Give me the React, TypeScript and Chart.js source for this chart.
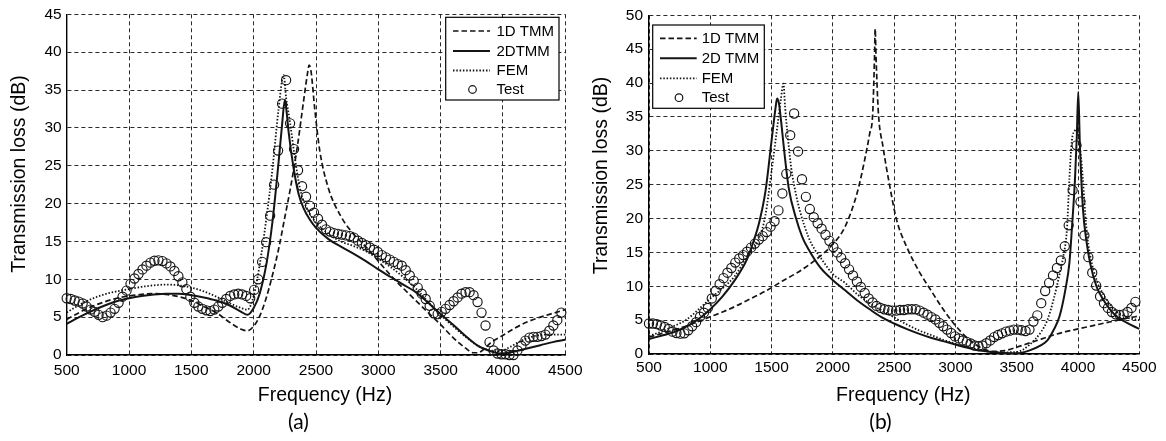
import React, { useEffect, useRef } from 'react';
import { Chart, registerables } from 'chart.js';

Chart.register(...registerables);

const FONT = "'Liberation Sans', Arial, Helvetica, sans-serif";
const INK = '#141414';
const GRID = '#2a2a2a';

// ---------- shared ----------
const xTickStep = 500;
const xMin = 500;
const xMax = 4500;
const xTitle = 'Frequency (Hz)';
const yTitle = 'Transmission loss (dB)';

// test frequencies (both panels)
const testFreq = [
  500, 532, 564, 596, 628, 660, 692, 724, 756, 788,
  820, 852, 884, 916, 948, 980, 1012, 1044, 1076, 1108,
  1140, 1172, 1204, 1236, 1268, 1300, 1332, 1364, 1396, 1428,
  1460, 1492, 1524, 1556, 1588, 1620, 1652, 1684, 1716, 1748,
  1780, 1812, 1844, 1876, 1908, 1940, 1972, 2004, 2036, 2068,
  2100, 2132, 2164, 2196, 2228, 2260, 2292, 2324, 2356, 2388,
  2420, 2452, 2484, 2516, 2548, 2580, 2612, 2644, 2676, 2708,
  2740, 2772, 2804, 2836, 2868, 2900, 2932, 2964, 2996, 3028,
  3060, 3092, 3124, 3156, 3188, 3220, 3252, 3284, 3316, 3348,
  3380, 3412, 3444, 3476, 3508, 3540, 3572, 3604, 3636, 3668,
  3700, 3732, 3764, 3796, 3828, 3860, 3892, 3924, 3956, 3988,
  4020, 4052, 4084, 4116, 4148, 4180, 4212, 4244, 4276, 4308,
  4340, 4372, 4404, 4436, 4468,
];

// ---------- panel (a) ----------
const yMaxA = 45;
const labelsA = ['1D TMM', '2DTMM', 'FEM', 'Test'];

const freq1DA = [500, 600, 700, 800, 900, 1000, 1100, 1200, 1300, 1400, 1500, 1600, 1700, 1800, 1900,
  1950, 2000, 2050, 2100, 2150, 2200, 2250, 2300, 2350, 2400,
  2430, 2445, 2460, 2490, 2530,
  2600, 2700, 2800, 2900, 3000, 3100, 3200, 3300, 3400, 3500, 3600, 3700,
  3760, 3800, 3850, 3900,
  4000, 4100, 4200, 4300, 4400, 4500];
const tl1DA = [4.7, 5.6, 6.4, 7.0, 7.5, 7.8, 8.0, 8.1, 8.0, 7.7, 7.2, 6.4, 5.6, 4.4, 3.4,
  3.2, 3.8, 5.2, 7.5, 10.5, 14.0, 18.2, 22.5, 27.5, 33.5,
  37.0, 38.3, 37.5, 32.5, 27.0,
  22.0, 18.3, 16.0, 14.3, 12.4, 10.5, 8.8, 7.2, 5.6, 4.0, 2.3, 0.9,
  0.3, 0.3, 0.8, 1.6,
  2.6, 3.6, 4.4, 5.0, 5.5, 6.0];

const freq2DA = [500, 600, 700, 800, 900, 1000, 1100, 1200, 1300, 1400, 1500, 1600, 1700, 1800, 1900,
  1950, 2000, 2050, 2100, 2150, 2200, 2230, 2250, 2265, 2280,
  2320, 2360, 2400, 2450, 2500,
  2600, 2700, 2800, 2900, 3000, 3100, 3200, 3300, 3400, 3500, 3600, 3700, 3800, 3900,
  3975, 4050, 4150, 4300, 4400, 4500];
const tl2DA = [4.1, 5.0, 5.8, 6.5, 7.1, 7.5, 7.8, 8.0, 8.1, 8.1, 7.9, 7.6, 7.2, 6.6, 5.7,
  5.3, 6.2, 8.2, 11.8, 17.5, 25.5, 30.8, 33.7, 32.0, 29.5,
  24.7, 21.3, 19.4, 17.9, 16.8,
  15.3, 14.3, 13.4, 12.4, 11.3, 10.3, 9.3, 8.3, 6.9, 5.4, 4.0, 2.5, 1.2, 0.5,
  0.2, 0.3, 0.7, 1.3, 1.7, 2.0];

const freqFemA = [500, 600, 700, 800, 900, 1000, 1100, 1200, 1300, 1400, 1500, 1600, 1700, 1800, 1900,
  1950, 2000, 2050, 2100, 2150, 2200, 2240, 2260, 2290, 2330,
  2370, 2420, 2500,
  2600, 2700, 2800, 2900, 3000, 3100, 3200, 3300, 3400, 3500, 3600, 3700, 3800, 3900,
  3975, 4050, 4150, 4250, 4350, 4500];
const tlFemA = [5.6, 6.6, 7.4, 8.0, 8.4, 8.7, 9.0, 9.2, 9.3, 9.2, 8.9, 8.4, 7.7, 6.9, 6.2,
  6.0, 7.8, 12.1, 17.8, 24.5, 32.5, 37.0, 34.0, 30.9, 26.1,
  22.1, 19.6, 17.5,
  16.0, 15.0, 14.4, 13.7, 12.7, 11.6, 10.3, 8.8, 7.0, 5.3, 3.8, 2.4, 1.2, 0.6,
  0.5, 1.0, 1.9, 2.5, 2.7, 2.7];

const testA = [
  7.5, 7.4, 7.2, 7.05, 6.8, 6.4, 6.0, 5.7, 5.3, 5.0,
  5.2, 5.6, 6.1, 6.9, 7.7, 8.5, 9.4, 10.1, 10.7, 11.3,
  11.8, 12.2, 12.45, 12.5, 12.4, 12.1, 11.7, 11.1, 10.4, 9.6,
  8.7, 7.7, 6.9, 6.4, 6.1, 5.9, 5.8, 6.0, 6.4, 6.9,
  7.4, 7.8, 8.0, 8.1, 8.0, 7.8, 7.5, 8.6, 10.0, 12.3,
  14.9, 18.4, 22.5, 27.0, 33.2, 36.3, 30.6, 27.2, 24.4, 22.3,
  20.9, 19.7, 18.8, 18.0, 17.2, 16.6, 16.3, 16.1, 16.0, 15.9,
  15.8, 15.7, 15.5, 15.1, 14.8, 14.5, 14.2, 13.9, 13.6, 13.2,
  12.9, 12.6, 12.3, 12.0, 11.8, 11.2, 10.5, 9.8, 8.9, 8.1,
  7.4, 6.5, 5.5, 5.4, 5.7, 6.1, 6.6, 7.1, 7.6, 8.1,
  8.3, 8.3, 7.9, 7.0, 5.6, 3.9, 1.7, 0.6, 0.2, 0.1,
  0.1, 0.0, 0.0, 0.6, 1.2, 1.9, 2.3, 2.4, 2.4, 2.5,
  2.7, 3.2, 3.9, 4.6, 5.6,
];

// ---------- panel (b) ----------
const yMaxB = 50;
const labelsB = ['1D TMM', '2D TMM', 'FEM', 'Test'];

const freq1DB = [500, 600, 700, 800, 900, 1000, 1100, 1200, 1300, 1400, 1500, 1600, 1700, 1800, 1900, 2000, 2100, 2200,
  2260, 2300, 2325, 2340, 2345, 2352, 2370, 2410, 2460, 2520,
  2600, 2700, 2800, 2900, 3000, 3100, 3200, 3300, 3400, 3500, 3600, 3700, 3800, 3900, 4000, 4100, 4200, 4300, 4400, 4500];
const tl1DB = [2.5, 3.0, 3.5, 4.1, 4.8, 5.5, 6.2, 7.0, 7.9, 8.8, 9.8, 10.9, 11.9, 13.1, 14.5, 16.2, 18.8, 23.9,
  28.7, 32.5, 35.5, 44.0, 48.0, 44.0, 36.0, 30.5, 25.2, 19.8,
  15.9, 12.3, 9.4, 6.6, 4.2, 2.3, 1.0, 0.4, 0.5, 1.0, 1.6, 2.2, 2.8, 3.3, 3.7, 4.1, 4.5, 4.9, 5.3, 5.6];

const freq2DB = [500, 600, 700, 800, 900, 1000, 1100, 1200, 1300,
  1350, 1400, 1450, 1500, 1530, 1545, 1560, 1580, 1600, 1640,
  1700, 1750, 1800,
  1900, 2000, 2100, 2200, 2300, 2400, 2500, 2600, 2700, 2800, 2900, 3000, 3100, 3200, 3300, 3400, 3500, 3600, 3700,
  3750, 3800, 3850, 3900, 3930, 3950, 3975, 3990, 4002, 4015,
  4040, 4070, 4100, 4150, 4200, 4300, 4400, 4500];
const tl2DB = [2.2, 2.7, 3.2, 4.0, 5.1, 6.6, 8.5, 10.9, 14.0,
  16.5, 19.5, 24.0, 31.5, 36.0, 37.7, 37.0, 34.0, 30.5, 24.5,
  20.0, 17.3, 15.5,
  12.7, 10.9, 9.4, 7.9, 6.6, 5.4, 4.5, 3.7, 3.0, 2.4, 1.9, 1.4, 0.9, 0.5, 0.3, 0.15, 0.1, 0.5, 1.3,
  2.0, 3.5, 5.6, 9.8, 13.5, 18.5, 25.7, 32.0, 38.7, 31.0,
  21.5, 16.5, 13.3, 10.0, 8.2, 5.8, 4.6, 3.7];

const freqFemB = [500, 600, 700, 800, 900, 1000, 1100, 1200, 1300, 1400,
  1450, 1500, 1550, 1575, 1597, 1610, 1630, 1660, 1700, 1730,
  1800, 1850, 1900,
  2000, 2100, 2200, 2300, 2400, 2500, 2600, 2700, 2800, 2900, 3000, 3100, 3200, 3300, 3400, 3500, 3600, 3700,
  3750, 3800,
  3850, 3880, 3910, 3930, 3950, 3975, 3990, 4005, 4030, 4070,
  4100, 4150, 4200, 4300, 4400, 4500];
const tlFemB = [2.65, 3.3, 4.1, 5.0, 6.5, 8.2, 9.7, 11.5, 14.4, 17.2,
  20.5, 27.0, 34.0, 37.5, 39.9, 36.5, 32.5, 27.5, 23.5, 21.2,
  17.3, 15.5, 14.2,
  11.8, 10.5, 8.8, 7.5, 6.4, 5.4, 4.4, 3.5, 2.8, 2.1, 1.5, 1.0, 0.6, 0.3, 0.25, 0.3, 1.3, 3.3,
  5.0, 8.0,
  11.8, 14.4, 18.5, 26.0, 31.5, 33.0, 33.3, 32.0, 28.0, 18.3,
  14.5, 11.0, 9.0, 6.5, 5.4, 5.0];

const testB = [
  4.5, 4.5, 4.4, 4.2, 4.0, 3.7, 3.3, 3.1, 3.0, 3.05,
  3.5, 4.1, 4.7, 5.5, 6.1, 6.8, 8.2, 9.3, 10.3, 11.2,
  12.0, 12.7, 13.5, 14.1, 14.6, 15.1, 15.7, 16.3, 16.9, 17.4,
  18.0, 18.8, 19.6, 21.2, 23.7, 26.6, 32.3, 35.5, 29.9, 25.8,
  23.2, 21.4, 20.2, 19.3, 18.5, 17.6, 16.7, 15.8, 15.0, 14.2,
  13.4, 12.5, 11.6, 10.7, 9.9, 9.0, 8.2, 7.6, 7.1, 6.8,
  6.6, 6.5, 6.4, 6.4, 6.5, 6.5, 6.6, 6.6, 6.6, 6.4,
  6.1, 5.8, 5.45, 5.1, 4.6, 4.1, 3.6, 3.1, 2.6, 2.3,
  2.0, 1.8, 1.55, 1.25, 1.15, 1.25, 1.6, 2.0, 2.5, 2.8,
  3.05, 3.3, 3.45, 3.6, 3.6, 3.5, 3.4, 3.6, 4.8, 5.7,
  7.5, 9.3, 10.5, 11.6, 12.7, 13.8, 15.9, 19.0, 24.2, 30.8,
  22.5, 17.5, 14.3, 12.0, 10.1, 8.5, 7.5, 6.8, 6.2, 5.85,
  5.75, 5.85, 6.2, 6.8, 7.7,
];

// ---------- styling ----------
const lineStyles = [
  { dash: [5.5, 3], width: 1.7 },
  { dash: [] as number[], width: 2.0 },
  { dash: [1.5, 1.8], width: 1.8 },
];

type Panel = {
  canvasLeft: number;
  canvasWidth: number;
  area: { left: number; right: number; top: number; bottom: number };
  yMax: number;
  curves: [number[], number[]][];
  test: number[];
  labels: string[];
  legend: { x: number; y: number; w: number; h: number; rows: number[]; l0: number; l1: number; mx: number; tx: number };
  xTitlePos: [number, number];
  yTitlePos: [number, number];
  panelLabel: string;
  panelPos: [number, number];
  tickPadX: number;
  tickPadY: number;
};

const panels: Panel[] = [
  {
    canvasLeft: 0,
    canvasWidth: 600,
    area: { left: 66.7, right: 565.3, top: 13, bottom: 355 },
    yMax: yMaxA,
    curves: [[freq1DA, tl1DA], [freq2DA, tl2DA], [freqFemA, tlFemA]],
    test: testA,
    labels: labelsA,
    legend: { x: 445.7, y: 17.3, w: 113.3, h: 82.7, rows: [31, 51, 70.5, 89.5], l0: 453, l1: 490, mx: 472.5, tx: 496.5 },
    xTitlePos: [325, 396],
    yTitlePos: [20, 174],
    panelLabel: '(a)',
    panelPos: [298.5, 422.5],
    tickPadX: 6,
    tickPadY: 5,
  },
  {
    canvasLeft: 580,
    canvasWidth: 586,
    area: { left: 69, right: 559.3, top: 15, bottom: 354 },
    yMax: yMaxB,
    curves: [[freq1DB, tl1DB], [freq2DB, tl2DB], [freqFemB, tlFemB]],
    test: testB,
    labels: labelsB,
    legend: { x: 72.7, y: 25, w: 111.6, h: 83.3, rows: [38.3, 58.3, 78.3, 97.7], l0: 80, l1: 116.7, mx: 99, tx: 121.7 },
    xTitlePos: [323.3, 396],
    yTitlePos: [22, 175.5],
    panelLabel: '(b)',
    panelPos: [300.5, 422.5],
    tickPadX: 4.5,
    tickPadY: 6,
  },
];

function pts(xs: number[], ys: number[]) {
  return xs.map((x, i) => ({ x, y: ys[i] }));
}

function PanelChart({ p }: { p: Panel }) {
  const ref = useRef<HTMLCanvasElement>(null);
  useEffect(() => {
    const canvas = ref.current!;
    const H = 441;

    const decorPlugin = {
      id: 'decor' + p.panelLabel,
      afterDraw(chart: any) {
        const ctx = chart.ctx as CanvasRenderingContext2D;
        ctx.save();
        // legend box
        const L = p.legend;
        ctx.fillStyle = '#fff';
        ctx.fillRect(L.x, L.y, L.w, L.h);
        ctx.strokeStyle = '#000';
        ctx.lineWidth = 1.2;
        ctx.setLineDash([]);
        ctx.strokeRect(L.x, L.y, L.w, L.h);
        ctx.font = `15px ${FONT}`;
        ctx.textAlign = 'left';
        ctx.textBaseline = 'middle';
        p.labels.forEach((lab, i) => {
          const y = L.rows[i];
          ctx.strokeStyle = INK;
          if (i < 3) {
            ctx.setLineDash(lineStyles[i].dash);
            ctx.lineWidth = lineStyles[i].width;
            ctx.beginPath();
            ctx.moveTo(L.l0, y);
            ctx.lineTo(L.l1, y);
            ctx.stroke();
          } else {
            ctx.setLineDash([]);
            ctx.lineWidth = 1.2;
            ctx.beginPath();
            ctx.arc(L.mx, y, 3.8, 0, Math.PI * 2);
            ctx.stroke();
          }
          ctx.fillStyle = '#000';
          ctx.fillText(lab, L.tx, y + 0.5);
        });
        ctx.setLineDash([]);
        // axis titles
        ctx.fillStyle = '#000';
        ctx.font = `19.5px ${FONT}`;
        ctx.textAlign = 'center';
        ctx.textBaseline = 'middle';
        ctx.fillText(xTitle, p.xTitlePos[0], p.xTitlePos[1]);
        ctx.save();
        ctx.translate(p.yTitlePos[0], p.yTitlePos[1]);
        ctx.rotate(-Math.PI / 2);
        ctx.fillText(yTitle, 0, 0);
        ctx.restore();
        ctx.font = `21px Lato, 'Open Sans', sans-serif`;
        ctx.fillText(p.panelLabel, p.panelPos[0], p.panelPos[1]);
        ctx.restore();
      },
    };

    const datasets: any[] = p.curves.map((c, i) => ({
      label: p.labels[i],
      data: pts(c[0], c[1]),
      borderColor: INK,
      borderWidth: lineStyles[i].width,
      borderDash: lineStyles[i].dash,
      pointRadius: 0,
      fill: false,
      cubicInterpolationMode: 'monotone',
      clip: 2,
    }));
    datasets.push({
      label: p.labels[3],
      data: pts(testFreq, p.test),
      showLine: false,
      pointStyle: 'circle',
      pointRadius: 4.6,
      pointBorderWidth: 1.15,
      pointBorderColor: INK,
      pointBackgroundColor: 'rgba(0,0,0,0)',
      clip: 6,
    });

    const chart = new Chart(canvas, {
      type: 'line',
      data: { datasets },
      options: {
        responsive: false,
        animation: false,
        devicePixelRatio: 1,
        events: [],
        layout: {
          autoPadding: false,
          padding: { left: 0, top: p.area.top, right: p.canvasWidth - p.area.right, bottom: 0 },
        },
        plugins: { legend: { display: false }, tooltip: { enabled: false }, title: { display: false } },
        scales: {
          x: {
            type: 'linear',
            position: 'bottom',
            min: xMin,
            max: xMax,
            afterFit: (s: any) => { s.height = H - p.area.bottom; },
            ticks: {
              stepSize: xTickStep,
              autoSkip: false,
              maxRotation: 0,
              padding: p.tickPadX,
              color: '#000',
              font: { family: FONT, size: 15.5 },
              callback: (v: any) => String(v),
            },
            grid: { color: GRID, lineWidth: 1, drawTicks: false },
            border: { display: true, color: '#000', width: 1.4, dash: [4, 3] },
          },
          y: {
            type: 'linear',
            position: 'left',
            min: 0,
            max: p.yMax,
            afterFit: (s: any) => { s.width = p.area.left; },
            ticks: {
              stepSize: 5,
              autoSkip: false,
              padding: p.tickPadY,
              color: '#000',
              font: { family: FONT, size: 15.5 },
              callback: (v: any) => String(v),
            },
            grid: { color: GRID, lineWidth: 1, drawTicks: false },
            border: { display: true, color: '#000', width: 1.4, dash: [4, 3] },
          },
        },
      } as any,
      plugins: [decorPlugin],
    });
    return () => chart.destroy();
  }, []);
  return (
    <canvas
      ref={ref}
      width={p.canvasWidth}
      height={441}
      style={{ position: 'absolute', left: p.canvasLeft, top: 0, width: p.canvasWidth, height: 441 }}
    />
  );
}

export default function App() {
  return (
    <div style={{ position: 'absolute', left: 0, top: 0, width: 1166, height: 441, background: '#fff', overflow: 'hidden' }}>
      {panels.map((p) => (
        <PanelChart key={p.panelLabel} p={p} />
      ))}
    </div>
  );
}
